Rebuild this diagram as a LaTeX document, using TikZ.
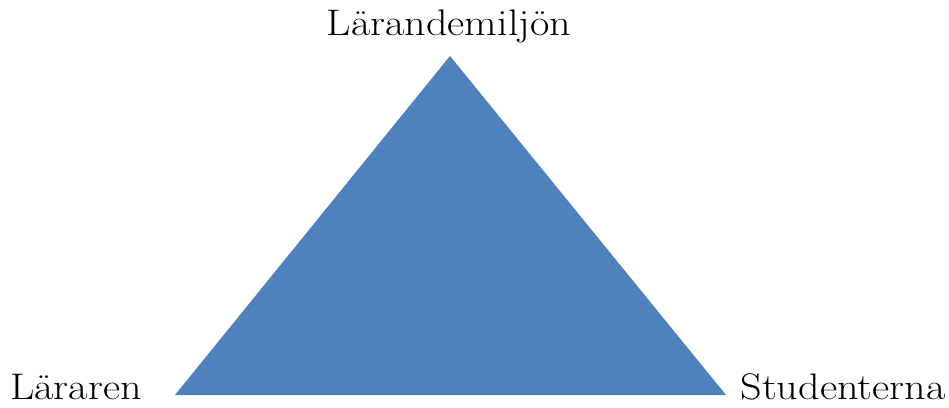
\documentclass[tikz,border=0pt]{standalone}
\usepackage{fontspec}
\definecolor{triblue}{HTML}{4F81BD}
\tikzset{lbl/.style={anchor=base,inner sep=0pt,text depth=0pt,font=\fontsize{37}{40}\selectfont}}
\begin{document}
\begin{tikzpicture}[x=1pt,y=1pt]
\useasboundingbox (0,0) rectangle (949,407);
\coordinate (apex) at (450,351);
\coordinate (bl) at (175,12);
\coordinate (br) at (726,12);
\fill[triblue] (bl) -- (br) -- (apex) -- cycle;
\node[lbl] (top) at (449,371) {\scalebox{1.14}[1]{Lärandemiljön}};
\node[lbl] (left) at (76,8) {\scalebox{1.14}[1]{Läraren}};
\node[lbl] (right) at (843,8) {\scalebox{1.14}[1]{Studenterna}};
\end{tikzpicture}
\end{document}
